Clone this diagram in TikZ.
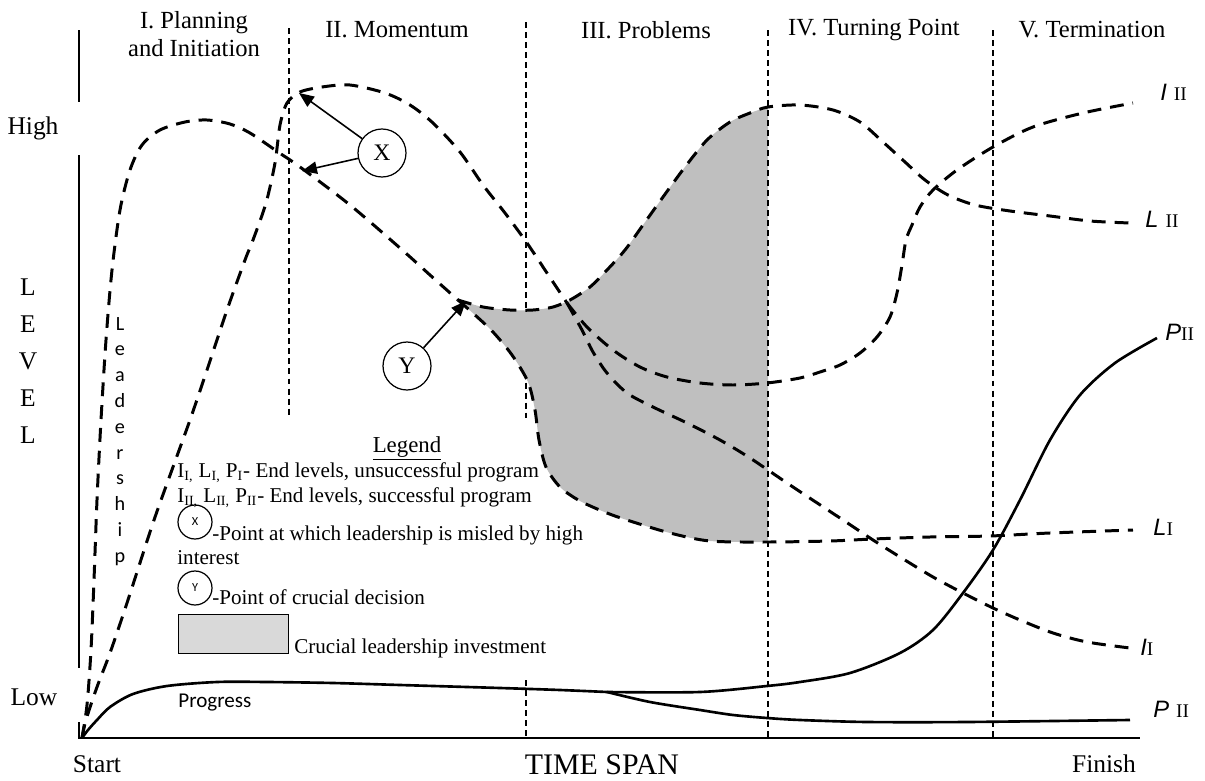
\documentclass[tikz,border=0pt]{standalone}
\usepackage{fontspec}
\setmainfont{Liberation Serif}
\newfontfamily\calibf{Carlito}
\newfontfamily\arialf{Liberation Sans}
\usetikzlibrary{arrows.meta}
\definecolor{invgray}{RGB}{191,191,191}
\definecolor{legray}{RGB}{217,217,217}
\newcommand\elab[1]{{\arialf\itshape\fontsize{13.5}{15}\selectfont #1}}
\newcommand\esub[1]{{\fontsize{11}{12}\selectfont #1}}
\begin{document}
\begin{tikzpicture}[x=0.02cm,y=-0.02cm,
  curve/.style={line width=1.7pt, dash pattern=on 7.9pt off 5.1pt},
  divider/.style={line width=0.75pt, dash pattern=on 3.4pt off 2.3pt},
  axisline/.style={line width=0.85pt},
  progline/.style={line width=1.5pt},
  hdr/.style={font=\fontsize{14}{16}\selectfont, inner sep=0pt, align=center},
  big/.style={font=\fontsize{14.5}{16}\selectfont, inner sep=0pt},
  leg/.style={font=\fontsize{12}{14}\selectfont, inner sep=0pt, anchor=base west},
  vlet/.style={font=\calibf\fontsize{11.5}{13}\selectfont, inner sep=0pt, anchor=base},
  biglet/.style={font=\fontsize{14.5}{16}\selectfont, inner sep=0pt, anchor=base},
  marker/.style={circle, draw, line width=0.7pt, minimum size=0.96cm, inner sep=0pt, font=\fontsize{13.5}{15}\selectfont},
  smallmark/.style={circle, draw, line width=0.7pt, minimum size=0.68cm, inner sep=0pt, font=\calibf\fontsize{7}{8}\selectfont},
  pointer/.style={line width=0.9pt, -{Triangle[length=8.5pt,width=7pt]}},
  endlab/.style={inner sep=0pt, anchor=base west}]
\useasboundingbox (0,0) rectangle (1205,781);

% dividers under the fill
\draw[divider] (289,28) -- (289,415);
\draw[divider] (526,22) -- (526,418);
\draw[divider] (526,680) -- (526,738);

% axes
\draw[axisline] (79,30) -- (79,102);
\draw[axisline] (79,155) -- (79,668);
\draw[axisline] (79,722) -- (79,738) -- (1140,738);

% crucial leadership investment area
\fill[invgray] plot[smooth] coordinates {(458,300) (483,307) (510,310) (533,310) (553,307) (570,300) (590,287) (607,270) (625,250) (643,225) (663,197) (685,167) (707,140) (730,122) (750,113) (768,107)}
  -- (768,96) -- (768,542)
  -- plot[smooth] coordinates {(767,542) (710,541) (670,533) (630,521) (607,513) (580,501) (560,487) (546,467) (539,440) (535,410) (528,382) (512,355) (493,332) (475,315) (458,300)} -- cycle;

\draw[divider] (768,30) -- (768,738);
\draw[divider] (993,30) -- (993,738);

% leadership curves
\draw[curve] plot[smooth] coordinates {(82,738) (87,705) (91,650) (94,580) (97,500) (101,420) (106,340) (112,270) (120,210) (130,170) (142,145) (160,130) (185,122) (207,120) (230,124) (250,133) (278,152) (300,167) (350,205) (400,248) (430,275) (458,300)};
\draw[curve] plot[smooth] coordinates {(458,300) (475,315) (493,332) (512,355) (528,382) (535,410) (539,440) (546,467) (560,487) (580,501) (607,513) (630,521) (670,533) (710,541) (767,542) (830,541) (873,539) (930,537) (990,536) (1050,533) (1133,530)};
\draw[curve] plot[smooth] coordinates {(458,300) (483,307) (510,310) (533,310) (553,307) (570,300) (590,287) (607,270) (625,250) (643,225) (663,197) (685,167) (707,140) (730,122) (750,113) (768,107) (800,105) (833,110) (860,122) (883,142) (905,162) (925,180) (948,195) (975,205) (1010,211) (1050,216) (1090,221) (1130,223)};

% interest curves
\draw[curve] plot[smooth] coordinates {(82,738) (86,720) (97,687) (110,653) (127,603) (153,523) (173,467) (190,420) (207,370) (227,310) (245,260) (253,240) (266,203) (275,163) (280,125) (287,103) (300,92) (322,87) (350,85) (385,93) (410,105) (433,123) (460,152) (483,185) (505,213) (527,243) (547,273) (567,303)};
\draw[curve] plot[smooth] coordinates {(567,303) (587,327) (613,350) (640,367) (667,377) (700,383) (733,385) (767,383) (800,378) (820,372) (840,365) (860,353) (877,337) (890,317) (897,293) (902,265) (906,240) (912,225) (920,207) (933,190) (957,170) (993,147) (1033,127) (1083,113) (1133,103)};
\draw[curve] plot[smooth] coordinates {(567,303) (582,330) (593,352) (607,373) (627,393) (653,407) (687,423) (720,440) (750,458) (793,487) (843,520) (873,540) (900,557) (933,577) (963,593) (993,608) (1020,620) (1053,633) (1087,642) (1130,648)};

% progress curves
\draw[progline] plot[smooth] coordinates {(82,738) (88,730) (97,720) (110,707) (133,694) (167,686) (217,682) (267,682) (333,683) (400,685) (500,688) (560,690) (607,692)};
\draw[progline] plot[smooth] coordinates {(607,692) (700,692) (767,686) (800,682) (850,673) (900,653) (933,630) (963,593) (993,550) (1020,500) (1050,440) (1080,395) (1115,363) (1157,338)};
\draw[progline] plot[smooth] coordinates {(607,692) (650,702) (700,710) (733,715) (767,718) (800,720) (867,722) (967,722) (1130,720)};

% markers X and Y
\node[marker] (X) at (382,153) {X};
\node[marker] (Y) at (407,366) {Y};
\coordinate (tX1) at (299,93);
\coordinate (tX2) at (302,171);
\coordinate (tY) at (466,301);
\draw[pointer] (X) -- (tX1);
\draw[pointer] (X) -- (tX2);
\draw[pointer] (Y) -- (tY);

% headers
\node[hdr] (h1) at (194,34) {I. Planning\\and Initiation};
\node[hdr] (h2) at (397,30) {II. Momentum};
\node[hdr] (h3) at (646,30) {III. Problems};
\node[hdr] (h4) at (874,30) {IV. Turning Point};
\node[hdr] (h5) at (1092,30) {V. Termination};

% axis labels
\node[big] (high) at (33,128) {High};
\node[big] (low) at (34,697) {Low};
\node[big] (start) at (97,764) {Start};
\node[big] (finish) at (1104,764) {Finish};
\node[font=\fontsize{17}{19}\selectfont, inner sep=0pt] (span) at (602,765) {TIME SPAN};

\foreach \c [count=\i from 0] in {L,E,V,E,L}
  \node[biglet] (lev\i) at (28,295+37*\i) {\c};
\foreach \c [count=\i from 0] in {L,e,a,d,e,r,s,h,i,p}
  \node[vlet] (ldr\i) at (120,330+25.8*\i) {\c};

\node[font=\calibf\fontsize{12}{14}\selectfont, inner sep=0pt, anchor=base west] (prog) at (178,707) {Progress};

% end labels
\node[endlab] (eI2) at (1160,100) {\elab{I}\hspace{4pt}\esub{II}};
\node[endlab] (eL2) at (1145,227) {\elab{L}\hspace{4pt}\esub{II}};
\node[endlab] (eP2) at (1165,340) {\elab{P}\esub{II}};
\node[endlab] (eL1) at (1153,535) {\elab{L}\esub{I}};
\node[endlab] (eI1) at (1140,655) {\elab{I}\esub{I}};
\node[endlab] (eP2b) at (1153,717) {\elab{P}\hspace{4pt}\esub{II}};

% legend
\node[font=\fontsize{13}{15}\selectfont, inner sep=0pt, anchor=base] (legt) at (407,452) {\underline{Legend}};
\node[leg] (leg1) at (177,477) {I\textsubscript{I,} L\textsubscript{I,} P\textsubscript{I}- End levels, unsuccessful program};
\node[leg] (leg2) at (177,502) {I\textsubscript{II,} L\textsubscript{II,} P\textsubscript{II}- End levels, successful program};
\node[smallmark] (lx) at (195,522) {X};
\node[leg] (leg3) at (212,540) {-Point at which leadership is misled by high};
\node[leg] (leg4) at (177,564) {interest};
\node[smallmark] (ly) at (195,588) {Y};
\node[leg] (leg5) at (212,604) {-Point of crucial decision};
\node[draw, fill=legray, line width=0.8pt, minimum width=2.2cm, minimum height=0.78cm, inner sep=0pt, anchor=north west] (lbox) at (178,614) {};
\node[leg] (leg6) at (294,653) {Crucial leadership investment};
\end{tikzpicture}
\end{document}
